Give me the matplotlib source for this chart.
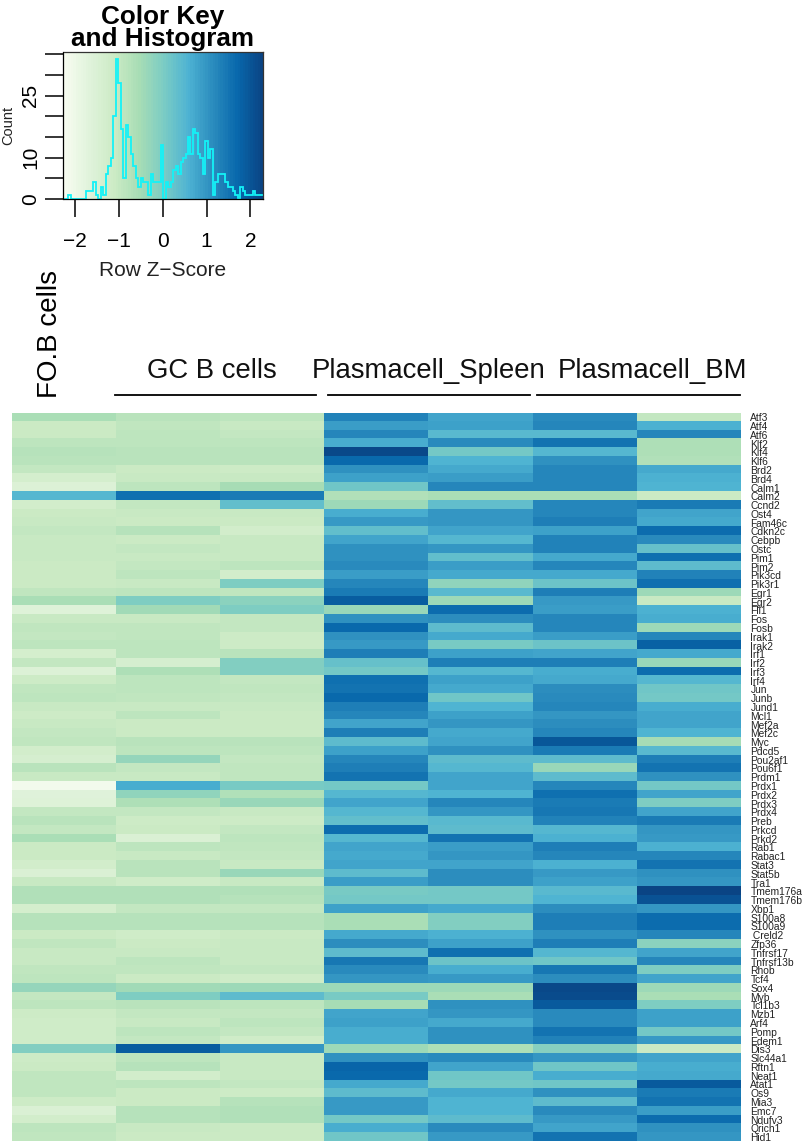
import numpy as np
import matplotlib
matplotlib.use("Agg")
import matplotlib.pyplot as plt
from matplotlib.colors import LinearSegmentedColormap, BoundaryNorm
from matplotlib.lines import Line2D

plt.rcParams['font.family'] = ['Liberation Sans', 'DejaVu Sans']

W, H = 803, 1143

genes = ["Atf3","Atf4","Atf6","Klf2","Klf4","Klf6","Brd2","Brd4","Calm1","Calm2",
 "Ccnd2","Ost4","Fam46c","Cdkn2c","Cebpb","Ostc","Pim1","Pim2","Pik3cd","Pik3r1",
 "Egr1","Egr2","Fli1","Fos","Fosb","Irak1","Irak2","Irf1","Irf2","Irf3",
 "Irf4","Jun","Junb","Jund1","Mcl1","Mef2a","Mef2c","Myc","Pdcd5","Pou2af1",
 "Pou6f1","Prdm1","Prdx1","Prdx2","Prdx3","Prdx4","Preb","Prkcd","Prkd2","Rab1",
 "Rabac1","Stat3","Stat5b","Tra1","Tmem176a","Tmem176b","Xbp1","S100a8","S100a9"," Creld2",
 "Zfp36","Tnfrsf17","Tnfrsf13b","Rhob","Tcf4","Sox4","Myb","Tcl1b3","Mzb1","Arf4",
 "Pomp","Edem1","Dis3","Slc44a1","Rftn1","Neat1","Atat1","Os9","Mia3","Emc7",
 "Ndufv3","Qrich1","Hid1"]

z_scores = [
[-0.6,-0.8,-0.9,1.3,0.8,1.15,-1.0],
[-1.1,-0.95,-1.05,0.9,0.85,1.25,0.6],
[-1.1,-0.9,-1.0,1.25,0.45,0.45,1.25],
[-0.85,-0.85,-0.85,0.65,1.15,1.5,-0.65],
[-0.75,-0.8,-0.8,2.2,0.1,0.5,-0.65],
[-0.8,-0.8,-0.8,1.7,0.55,1.05,-0.7],
[-1.0,-1.1,-1.15,1.05,0.7,1.2,0.7],
[-1.35,-1.05,-1.05,0.85,0.9,1.2,0.6],
[-1.55,-0.85,-0.55,0.15,1.25,1.2,0.55],
[0.5,1.55,1.4,-0.7,-0.6,-0.6,-1.1],
[-1.3,-1.0,0.3,-0.4,0.3,1.25,1.4],
[-1.1,-1.05,-1.05,0.65,1.0,1.25,0.75],
[-1.05,-1.1,-1.1,0.95,1.0,1.35,0.7],
[-1.0,-0.75,-1.25,0.3,0.75,0.85,1.6],
[-1.05,-1.1,-1.05,0.8,0.5,1.3,1.15],
[-1.05,-1.0,-1.05,1.05,1.0,1.3,0.25],
[-1.05,-1.05,-1.05,1.05,0.3,0.7,1.55],
[-1.1,-1.0,-0.9,1.15,0.9,1.25,0.35],
[-1.1,-0.85,-1.3,0.9,0.7,0.7,1.3],
[-1.1,-1.05,-0.05,1.25,-0.25,0.2,1.55],
[-0.95,-0.9,-0.95,1.4,0.45,1.35,-0.4],
[-0.6,-0.05,-0.2,1.85,-0.45,0.95,-1.05],
[-1.6,-0.5,-0.05,-0.35,1.6,0.9,0.6],
[-1.05,-1.05,-1.0,1.05,1.1,1.2,0.65],
[-0.95,-0.95,-1.0,1.7,0.35,1.2,-0.4],
[-1.0,-0.95,-1.15,1.05,0.7,0.9,1.2],
[-0.9,-0.85,-1.15,0.95,0.05,0.2,1.8],
[-1.35,-0.85,-0.8,1.35,0.85,0.75,0.7],
[-1.0,-1.4,-0.1,0.25,1.35,1.35,-0.35],
[-1.55,-0.65,-0.1,0.1,0.5,0.65,1.65],
[-1.15,-0.9,-1.0,1.55,0.85,0.7,0.5],
[-0.95,-0.9,-0.95,1.5,0.7,1.1,0.15],
[-0.9,-0.95,-1.0,1.7,0.15,1.15,0.1],
[-1.05,-1.05,-1.05,1.35,0.55,1.2,0.65],
[-1.15,-0.85,-1.1,1.25,0.85,1.0,0.75],
[-1.05,-1.1,-1.1,0.8,1.0,1.1,0.75],
[-1.0,-1.1,-1.1,1.35,0.7,1.25,0.55],
[-0.95,-0.8,-0.8,0.4,0.75,1.95,-0.55],
[-1.3,-0.85,-0.85,0.85,1.05,1.4,0.45],
[-1.4,-0.3,-1.0,1.2,0.4,0.4,1.35],
[-0.8,-1.0,-0.95,1.35,0.5,-0.35,1.5],
[-1.05,-1.05,-0.95,1.5,0.75,0.35,1.05],
[-2.1,0.65,0.05,0.1,0.75,1.25,0.1],
[-1.7,-0.25,-0.7,0.5,0.55,1.55,0.8],
[-1.6,-0.65,-0.35,0.75,1.2,1.4,-0.05],
[-1.0,-1.0,-1.05,0.5,1.0,1.45,0.75],
[-0.8,-1.15,-1.15,0.3,0.45,1.3,1.4],
[-1.0,-1.1,-1.0,1.6,0.4,0.5,1.0],
[-0.6,-1.5,-0.9,0.5,1.5,0.6,0.95],
[-1.1,-0.9,-0.95,0.75,0.9,1.35,0.6],
[-1.1,-1.05,-1.0,0.7,1.0,1.2,1.25],
[-1.25,-0.8,-1.05,0.75,0.75,0.6,1.5],
[-1.5,-0.8,-0.35,0.35,1.1,0.95,1.05],
[-1.05,-1.2,-1.05,0.9,1.1,0.85,1.0],
[-0.7,-0.7,-0.7,0.05,0.1,0.45,2.25],
[-0.7,-0.7,-0.75,0.1,0.1,0.55,2.05],
[-1.35,-1.0,-1.0,0.85,0.7,1.1,1.0],
[-0.75,-0.75,-0.75,-0.6,-0.1,1.35,1.65],
[-0.75,-0.75,-0.75,-0.6,-0.1,1.35,1.6],
[-1.1,-1.2,-1.1,0.7,0.6,1.05,1.25],
[-0.95,-1.1,-1.05,1.1,0.85,1.35,-0.2],
[-1.05,-1.05,-1.05,0.4,1.55,0.5,0.8],
[-1.05,-0.85,-1.05,1.45,0.2,0.15,1.25],
[-0.95,-0.95,-1.0,1.15,0.65,1.45,-0.05],
[-0.9,-1.1,-1.2,1.0,0.95,1.1,0.8],
[-0.3,-0.5,-0.45,-0.4,-0.45,2.2,-0.4],
[-1.0,0.0,0.4,0.05,-0.6,2.15,-0.6],
[-0.9,-0.8,-0.85,-0.55,1.05,1.9,-0.05],
[-1.15,-1.0,-1.0,0.8,1.0,1.15,0.85],
[-1.2,-1.05,-0.85,0.85,0.7,1.15,0.85],
[-1.2,-0.85,-1.0,0.65,1.05,1.5,0.1],
[-1.2,-1.0,-1.2,0.65,1.05,1.3,0.95],
[-0.1,1.85,1.0,-0.45,-0.65,-0.15,-1.1],
[-1.15,-0.85,-1.05,1.05,1.15,1.0,0.8],
[-1.1,-0.75,-1.05,1.75,0.75,0.15,0.65],
[-0.95,-1.25,-1.05,1.7,0.15,0.65,0.7],
[-0.95,-0.9,-1.0,0.7,0.1,0.15,1.9],
[-0.95,-1.1,-1.15,0.35,0.7,1.05,1.4],
[-1.15,-1.1,-0.75,0.95,0.55,0.35,1.5],
[-1.5,-0.75,-0.7,0.95,0.55,1.15,0.9],
[-1.3,-0.75,-0.7,0.1,0.4,0.95,1.65],
[-0.85,-1.05,-1.1,0.65,1.15,0.8,1.05],
[-0.95,-1.1,-1.1,0.15,0.95,1.5,1.0],
]

# histogram counts, one per colour-key bin
hist_counts = [0,0,1,0,0,0,0,0,0,2,2,2,4,1,0,3,1,6,8,10,20,34,28,17,5,18,15,11,8,5,3,5,4,4,1,6,4,4,4,13,
               0,4,3,4,7,8,6,9,10,11,15,11,17,16,11,10,6,14,10,12,1,4,6,6,6,4,3,3,2,1,0,3,2,1,1,1,2,1,1,1]
key_low, key_high = -2.27, 2.28
key_ticks_x = [-2,-1,0,1,2]
key_ticks_y = [0,5,10,15,20,25,30,35]
key_labels_y = ["0","","10","","","25","",""]
key_labels_x = ["\u22122","\u22121","0","1","2"]

group_labels = ["GC B cells","Plasmacell_Spleen","Plasmacell_BM"]

cmap = LinearSegmentedColormap.from_list("gnbu9",
    ["#f7fcf0","#e0f3db","#ccebc5","#a8ddb5","#7bccc4","#4eb3d3","#2b8cbe","#0868ac","#0a4484"], N=256)
breaks = np.linspace(key_low, key_high, len(hist_counts)+1)
norm = BoundaryNorm(breaks, 256)

def pxaxes(fig, left, top, right, bottom):
    return fig.add_axes([left/W, 1-bottom/H, (right-left)/W, (bottom-top)/H])

fig = plt.figure(figsize=(W/100, H/100), dpi=100, facecolor="white")

# Heatmap
ax = pxaxes(fig, 11.5, 413, 740, 1141.5)
data = np.array(z_scores)
ax.imshow(data, cmap=cmap, norm=norm, aspect="auto", interpolation="nearest")
ax.set_xticks([])
ax.yaxis.tick_right()
ax.set_yticks(np.arange(len(genes)))
ax.set_yticklabels(genes, fontsize=7.4, color="#222222")
ax.tick_params(axis="y", length=0, pad=7.5)
for s in ax.spines.values():
    s.set_visible(False)

# Colour key
kx = pxaxes(fig, 63.5, 52, 262.7, 199)
kx.pcolormesh(breaks, [0, 35.6], (0.5*(breaks[:-1]+breaks[1:]))[None, :], cmap=cmap, norm=norm)
kx.stairs(np.array(hist_counts, dtype=float), breaks, color="#14f2f7", linewidth=1.3, baseline=None)
kx.set_xlim(key_low, key_high)
kx.set_ylim(0, 35.6)
kx.set_xticks(key_ticks_x)
kx.set_xticklabels(key_labels_x, fontsize=15)
kx.set_yticks(key_ticks_y)
kx.set_yticklabels(key_labels_y, fontsize=15, rotation=90, va="center")
kx.tick_params(axis="x", length=13, width=1.1, pad=11)
kx.tick_params(axis="y", length=13, width=1.1, pad=4)
for s in kx.spines.values():
    s.set_linewidth(0.9)
    s.set_color("#333333")
kx.spines["left"].set_color("black")
kx.spines["bottom"].set_color("black")

fig.text(163/W, 1-28/H, "Color Key\nand Histogram", ha="center", va="center",
         fontsize=18.8, fontweight="bold", linespacing=0.88)
fig.text(163/W, 1-271/H, "Row Z\u2212Score", ha="center", va="center", fontsize=15, color="#222222")
fig.text(8/W, 1-125/H, "Count", ha="center", va="center", rotation=90, fontsize=10.5, color="#222222")

# Group annotations
fig.text(50/W, 1-334/H, "FO.B cells", ha="center", va="center", rotation=90, fontsize=20)
for label, cx in zip(group_labels, [212, 428.5, 653]):
    fig.text(cx/W, 1-371/H, label, ha="center", va="center", fontsize=19.8, color="#111111")
for x0, x1 in [(115, 316), (328, 530), (537, 740)]:
    fig.add_artist(Line2D([x0/W, x1/W], [1-395/H, 1-395/H], color="black", lw=1.3))

fig.savefig("out.png", dpi=100, facecolor="white")
